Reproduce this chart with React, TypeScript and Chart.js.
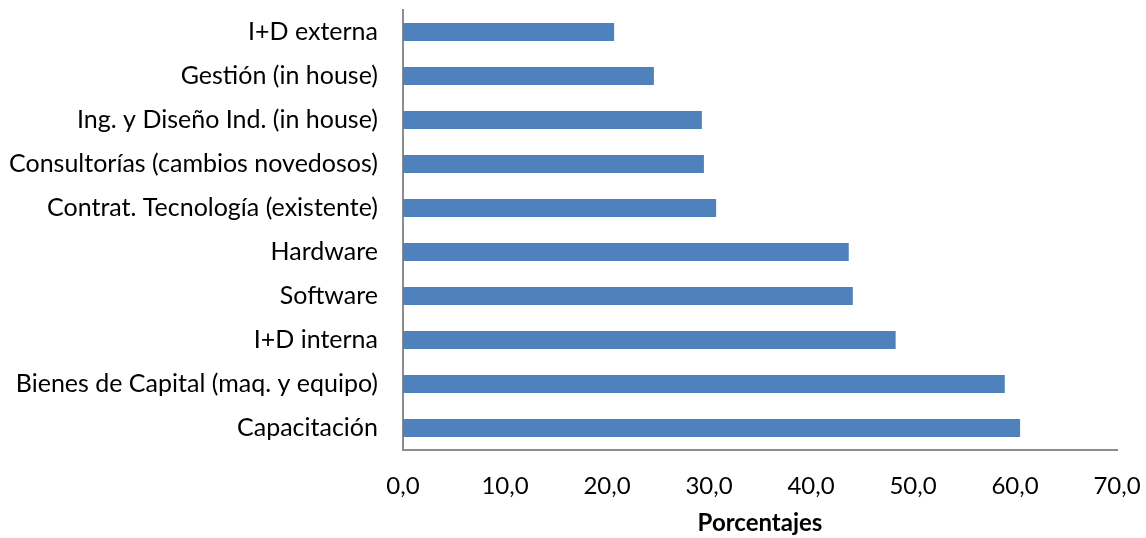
import React, { useEffect, useRef } from "react";
import { Chart, registerables } from "chart.js";

Chart.register(...registerables);

const categories = [
  "I+D externa",
  "Gestión (in house)",
  "Ing. y Diseño Ind. (in house)",
  "Consultorías (cambios novedosos)",
  "Contrat. Tecnología (existente)",
  "Hardware",
  "Software",
  "I+D interna",
  "Bienes de Capital (maq. y equipo)",
  "Capacitación",
];
const values = [20.7, 24.6, 29.3, 29.5, 30.7, 43.7, 44.1, 48.3, 59.0, 60.5];
const xTicks = [0, 10, 20, 30, 40, 50, 60, 70];
const axisTitle = "Porcentajes";

const FONT = "Lato, 'Open Sans', 'Liberation Sans', sans-serif";

const zeroPad = (scale: any) => {
  scale.paddingTop = 0;
  scale.paddingBottom = 0;
  scale.paddingLeft = 0;
  scale.paddingRight = 0;
};

export default function App() {
  const ref = useRef<HTMLCanvasElement | null>(null);
  useEffect(() => {
    if (!ref.current) return;
    const chart = new Chart(ref.current, {
      type: "bar",
      data: {
        labels: categories,
        datasets: [
          {
            data: values,
            backgroundColor: "#4F81BD",
            borderWidth: 0,
            categoryPercentage: 1,
            barPercentage: 0.41,
          },
        ],
      },
      options: {
        indexAxis: "y",
        animation: false,
        responsive: false,
        maintainAspectRatio: false,
        layout: { padding: { left: 0, right: 29, top: 10, bottom: 0 } },
        plugins: { legend: { display: false }, tooltip: { enabled: false } },
        scales: {
          x: {
            min: 0,
            max: 70,
            afterBuildTicks: (scale: any) => {
              scale.ticks = xTicks.map((v) => ({ value: v }));
            },
            afterFit: (scale: any) => {
              scale.height = 88;
              zeroPad(scale);
            },
            grid: { display: false, drawTicks: false },
            border: { display: true, color: "#8C8C8C", width: 2 },
            ticks: {
              padding: 22,
              color: "#000",
              font: { family: FONT, size: 24 },
              callback: (v: any) => Number(v).toFixed(1).replace(".", ","),
              maxRotation: 0,
            },
            title: {
              display: true,
              text: axisTitle,
              color: "#000",
              font: { family: FONT, size: 24, weight: "bold" },
              padding: { top: 8, bottom: 0 },
            },
          },
          y: {
            afterFit: (scale: any) => {
              scale.width = 403;
              zeroPad(scale);
            },
            grid: { display: false, drawTicks: false },
            border: { display: true, color: "#8C8C8C", width: 2 },
            ticks: {
              padding: 25,
              color: "#000",
              font: { family: FONT, size: 25 },
            },
          },
        },
      },
    });
    return () => chart.destroy();
  }, []);
  return (
    <div style={{ position: "absolute", left: 0, top: 0, width: 1146, height: 538, background: "#fff" }}>
      <canvas ref={ref} width={1146} height={538} style={{ width: 1146, height: 538 }} />
    </div>
  );
}
